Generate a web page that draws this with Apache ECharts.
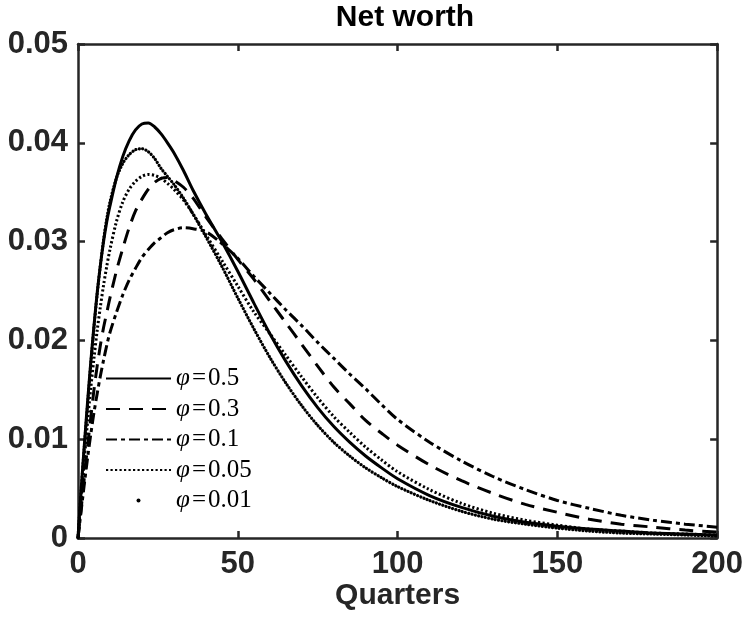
<!DOCTYPE html>
<html>
<head>
<meta charset="utf-8">
<script src="https://cdn.jsdelivr.net/npm/echarts@6/dist/echarts.min.js"></script>
<style>
  html, body { margin: 0; padding: 0; background: #fff; }
  #chart { width: 746px; height: 623px; }
</style>
</head>
<body>
<div id="chart"></div>
<script>
// quarters shared by all series
var quarters = [0, 1, 2, 3, 4, 5, 6, 7, 8, 9, 10, 12, 14, 16, 18, 20, 22, 24, 26, 28, 30, 33, 36, 40, 45, 50,
  55, 60, 65, 70, 75, 80, 85, 90, 95, 100, 110, 120, 130, 140, 150, 160, 170, 180, 190, 200];

// phi = 0.5 (solid)
var phi05 = [0, 0.005, 0.0095, 0.0138, 0.0178, 0.0215, 0.0248, 0.0276, 0.03, 0.032, 0.0336, 0.0364, 0.0386, 0.0402, 0.0413, 0.0419, 0.042, 0.0416, 0.0409, 0.04, 0.039, 0.0372, 0.0352, 0.0328, 0.03, 0.027,
  0.0238, 0.0207, 0.0179, 0.0154, 0.0132, 0.0113, 0.0097, 0.0083, 0.0071, 0.006, 0.0043, 0.0031, 0.0022, 0.0016, 0.0012, 0.0009, 0.0007, 0.0005, 0.0004, 0.0003];
// phi = 0.3 (dashed)
var phi03 = [0, 0.003, 0.0062, 0.0093, 0.0122, 0.015, 0.0174, 0.0195, 0.0213, 0.0228, 0.0243, 0.027, 0.0293, 0.0314, 0.0331, 0.0343, 0.0353, 0.036, 0.0364, 0.0365, 0.0362, 0.0355, 0.0344, 0.0325, 0.0303, 0.0282,
  0.0262, 0.024, 0.0218, 0.0196, 0.0174, 0.0153, 0.0136, 0.0119, 0.0106, 0.0094, 0.0074, 0.0058, 0.0045, 0.0034, 0.0026, 0.0019, 0.0014, 0.0011, 0.0008, 0.0006];
// phi = 0.1 (dash-dot)
var phi01 = [0, 0.0028, 0.0055, 0.0081, 0.0105, 0.0127, 0.0146, 0.0164, 0.018, 0.0195, 0.0208, 0.0228, 0.0246, 0.0261, 0.0273, 0.0284, 0.0292, 0.0299, 0.0304, 0.0309, 0.0312, 0.0314, 0.0313, 0.031, 0.0298, 0.0283,
  0.0265, 0.0248, 0.0231, 0.0215, 0.0198, 0.0182, 0.0166, 0.0151, 0.0135, 0.012, 0.0097, 0.0078, 0.0062, 0.0049, 0.0038, 0.003, 0.0023, 0.0018, 0.0014, 0.0011];
// phi = 0.05 (dotted)
var phi005 = [0, 0.004, 0.008, 0.0118, 0.0152, 0.0182, 0.021, 0.0234, 0.0256, 0.0275, 0.0292, 0.032, 0.034, 0.0353, 0.0361, 0.0366, 0.0368, 0.0367, 0.0364, 0.0359, 0.0353, 0.0342, 0.0328, 0.0307, 0.0281, 0.0255,
  0.0229, 0.0207, 0.0185, 0.0163, 0.0142, 0.0123, 0.0107, 0.0092, 0.0079, 0.0067, 0.0049, 0.0035, 0.0025, 0.0018, 0.0013, 0.0009, 0.0007, 0.0005, 0.0004, 0.0003];
// phi = 0.01 (point markers)
var phi001 = [0, 0.0048, 0.0093, 0.0135, 0.0176, 0.0213, 0.0247, 0.0276, 0.0302, 0.0323, 0.034, 0.0364, 0.0379, 0.0388, 0.0393, 0.0394, 0.0391, 0.0384, 0.0374, 0.0366, 0.0358, 0.0344, 0.0328, 0.0305, 0.0275, 0.0243,
  0.0212, 0.0183, 0.0157, 0.0134, 0.0114, 0.0097, 0.0083, 0.0071, 0.0061, 0.0052, 0.0038, 0.0027, 0.0019, 0.0014, 0.001, 0.0007, 0.0005, 0.0004, 0.0003, 0.0002];

var names = ['φ=0.5', 'φ=0.3', 'φ=0.1', 'φ=0.05', 'φ=0.01'];
var xTicks = [0, 50, 100, 150, 200];
var yTicks = [0, 0.01, 0.02, 0.03, 0.04, 0.05];

function pairs(ys) {
  return quarters.map(function (q, i) { return [q, ys[i]]; });
}

var axisColor = '#262626';
var font = 'Liberation Sans, Arial, sans-serif';

var chart = echarts.init(document.getElementById('chart'));

function mkLine(name, ys, type, width, cap) {
  return {
    name: name,
    type: 'line',
    data: pairs(ys),
    symbol: 'none',
    smooth: 0.3,
    animation: false,
    itemStyle: { color: '#000' },
    lineStyle: { color: '#000', width: width, type: type, cap: cap || 'butt' }
  };
}

// box axes: line + inward ticks, no labels
function boxAxis(extra) {
  var a = {
    type: 'value',
    axisLine: { show: true, onZero: false, lineStyle: { color: axisColor, width: 2.5 } },
    axisTick: { show: true, inside: true, length: 7, lineStyle: { color: axisColor, width: 2.5 } },
    splitLine: { show: false }
  };
  for (var k in extra) a[k] = extra[k];
  return a;
}

var tickFont = { fontFamily: font, fontWeight: 'bold', fontSize: 31, color: axisColor };

var option = {
  backgroundColor: '#fff',
  title: {
    text: 'Net worth',
    left: 400,
    textAlign: 'center',
    top: -2,
    textStyle: { fontFamily: font, fontWeight: 'bold', fontSize: 30, color: '#000' }
  },
  legend: {
    orient: 'vertical',
    left: 100,
    top: 361,
    itemWidth: 65,
    itemHeight: 4,
    itemGap: 5.5,
    selectedMode: false,
    itemStyle: { opacity: 0 },
    data: [
      { name: names[0] },
      { name: names[1] },
      { name: names[2] },
      { name: names[3] },
      { name: names[4], icon: 'circle', itemStyle: { color: '#000', opacity: 1 } }
    ],
    formatter: function (n) {
      return '{i|φ}{n|\u200A=\u200A' + n.slice(2) + '}';
    },
    textStyle: {
      lineHeight: 24,
      rich: {
        i: { fontFamily: 'Liberation Serif, serif', fontStyle: 'italic', fontSize: 25, color: '#000' },
        n: { fontFamily: 'Liberation Serif, serif', fontSize: 25, color: '#000' }
      }
    }
  },
  grid: { left: 78, right: 24, top: 44, bottom: 85 },
  xAxis: [
    boxAxis({
      min: 0, max: 200, interval: 50,
      name: 'Quarters',
      nameLocation: 'middle',
      nameGap: 43,
      nameMoveOverlap: false,
      nameTextStyle: { fontFamily: font, fontWeight: 'bold', fontSize: 30, color: axisColor },
      axisLabel: Object.assign({ margin: 11,
        formatter: function (v) { return xTicks.indexOf(v) >= 0 ? String(v) : ''; } }, tickFont)
    }),
    boxAxis({ position: 'top', min: 0, max: 200, interval: 50, axisLabel: { show: false } })
  ],
  yAxis: [
    boxAxis({
      min: 0, max: 0.05, interval: 0.01,
      axisLabel: Object.assign({ margin: 10,
        formatter: function (v) {
          var r = Math.round(v * 100) / 100;
          return yTicks.indexOf(r) < 0 ? '' : (r === 0 ? '0' : r.toFixed(2));
        } }, tickFont)
    }),
    boxAxis({ position: 'right', min: 0, max: 0.05, interval: 0.01, axisLabel: { show: false } })
  ],
  series: [
    mkLine(names[0], phi05, 'solid', 3),
    mkLine(names[1], phi03, [14, 9], 3),
    mkLine(names[2], phi01, [11, 4, 4, 4], 3),
    mkLine(names[3], phi005, [2.2, 2.3], 3),
    mkLine(names[4], phi001, [0.1, 3.3], 3.2, 'round')
  ]
};

chart.setOption(option);
</script>
</body>
</html>
